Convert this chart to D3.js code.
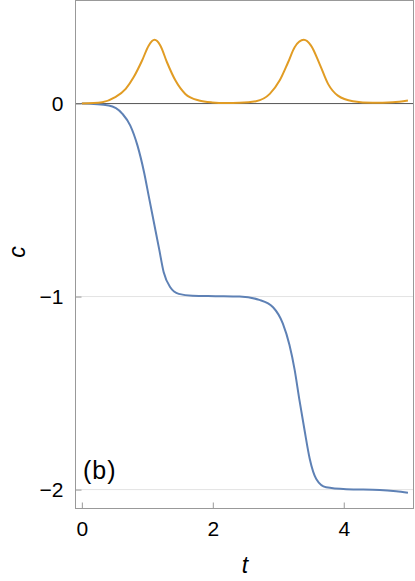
<!DOCTYPE html>
<html>
<head>
<meta charset="utf-8">
<script src="https://cdn.jsdelivr.net/npm/d3@7"></script>
<style>
  body { margin: 0; background: #fff; }
  text { font-family: "Liberation Sans", Arial, sans-serif; fill: #000; }
</style>
</head>
<body>
<div id="chart"></div>
<script>
// --- DATA ---
const blueT = [0, 0.41, 0.62, 0.74, 0.85, 0.95, 1.02, 1.10, 1.18, 1.25, 1.35, 1.48, 1.69, 2.04,
               2.41, 2.71, 2.92, 3.07, 3.17, 3.25, 3.32, 3.40, 3.48, 3.58, 3.73, 4.04, 4.55, 4.80, 4.98];
const blueC = [0, -0.01, -0.053, -0.114, -0.218, -0.356, -0.477, -0.615, -0.753, -0.874, -0.952, -0.986, -0.996, -0.998,
               -1.0, -1.017, -1.055, -1.14, -1.25, -1.38, -1.53, -1.69, -1.84, -1.945, -1.988, -1.998, -2.002, -2.009, -2.017];

const orangeT = [0, 0.31, 0.51, 0.67, 0.79, 0.92, 1.02, 1.11, 1.20, 1.30, 1.43, 1.58, 1.79, 1.99,
                 2.20, 2.41, 2.66, 2.87, 3.02, 3.15, 3.25, 3.39, 3.50, 3.63, 3.76, 3.91, 4.14, 4.44, 4.75, 4.98];
const orangeC = [0, 0.007, 0.033, 0.076, 0.136, 0.223, 0.30, 0.330, 0.30, 0.214, 0.119, 0.050, 0.016, 0.006,
                 0.003, 0.004, 0.012, 0.05, 0.119, 0.214, 0.292, 0.330, 0.30, 0.206, 0.102, 0.041, 0.012, 0.004, 0.007, 0.016];

const xTicks = [0, 2, 4];
const yTicks = [0, -1, -2];
const gridY  = [-1, -2];

// --- LAYOUT ---
const width = 415, height = 581;
const frame = { left: 75.5, right: 413.5, top: 0.5, bottom: 508.5 };

const svg = d3.select('#chart').append('svg')
  .attr('width', width)
  .attr('height', height);

const x = d3.scaleLinear()
  .domain([-0.097, 5.065])
  .range([frame.left, frame.right]);

const y = d3.scaleLinear()
  .domain([-2.098, 0.534])
  .range([frame.bottom, frame.top]);

// grid lines
svg.append('g')
  .selectAll('line')
  .data(gridY)
  .enter().append('line')
    .attr('x1', frame.left).attr('x2', frame.right)
    .attr('y1', d => y(d)).attr('y2', d => y(d))
    .attr('stroke', '#e3e3e3')
    .attr('stroke-width', 1);

// zero axis
svg.append('line')
  .attr('x1', frame.left).attr('x2', frame.right)
  .attr('y1', y(0)).attr('y2', y(0))
  .attr('stroke', '#555')
  .attr('stroke-width', 1);

// curves
const line = d3.line()
  .x(d => x(d[0]))
  .y(d => y(d[1]))
  .curve(d3.curveMonotoneX);

svg.append('path')
  .datum(blueT.map((t, i) => [t, blueC[i]]))
  .attr('d', line)
  .attr('fill', 'none')
  .attr('stroke', '#5E81B5')
  .attr('stroke-width', 2);

svg.append('path')
  .datum(orangeT.map((t, i) => [t, orangeC[i]]))
  .attr('d', line)
  .attr('fill', 'none')
  .attr('stroke', '#E19C24')
  .attr('stroke-width', 2);

// frame
svg.append('rect')
  .attr('x', frame.left).attr('y', frame.top)
  .attr('width', frame.right - frame.left)
  .attr('height', frame.bottom - frame.top)
  .attr('fill', 'none')
  .attr('stroke', '#999')
  .attr('stroke-width', 1);

// bottom axis: ticks inward
const xAxis = svg.append('g')
  .attr('transform', `translate(0,${frame.bottom})`)
  .call(d3.axisBottom(x).tickValues(xTicks).tickSizeInner(-6).tickSizeOuter(0).tickPadding(13)
    .tickFormat(d3.format('d')));
xAxis.select('.domain').remove();
xAxis.selectAll('line').attr('stroke', '#999');
xAxis.selectAll('text').style('font-size', '21px');

// left axis: ticks inward
const yAxis = svg.append('g')
  .attr('transform', `translate(${frame.left},0)`)
  .call(d3.axisLeft(y).tickValues(yTicks).tickSizeInner(-6).tickSizeOuter(0).tickPadding(12)
    .tickFormat(d => d === 0 ? '0' : '\u2212' + Math.abs(d)));
yAxis.select('.domain').remove();
yAxis.selectAll('line').attr('stroke', '#999');
yAxis.selectAll('text').style('font-size', '21px');

// axis labels
svg.append('text')
  .attr('x', 245).attr('y', 573)
  .attr('text-anchor', 'middle')
  .style('font-size', '23px')
  .style('font-style', 'italic')
  .text('t');

svg.append('text')
  .attr('transform', 'translate(25,252) rotate(-90)')
  .attr('text-anchor', 'middle')
  .style('font-size', '23px')
  .style('font-style', 'italic')
  .text('c');

// panel label
svg.append('text')
  .attr('x', 83).attr('y', 479)
  .style('font-size', '25px')
  .style('letter-spacing', '1px')
  .text('(b)');
</script>
</body>
</html>
